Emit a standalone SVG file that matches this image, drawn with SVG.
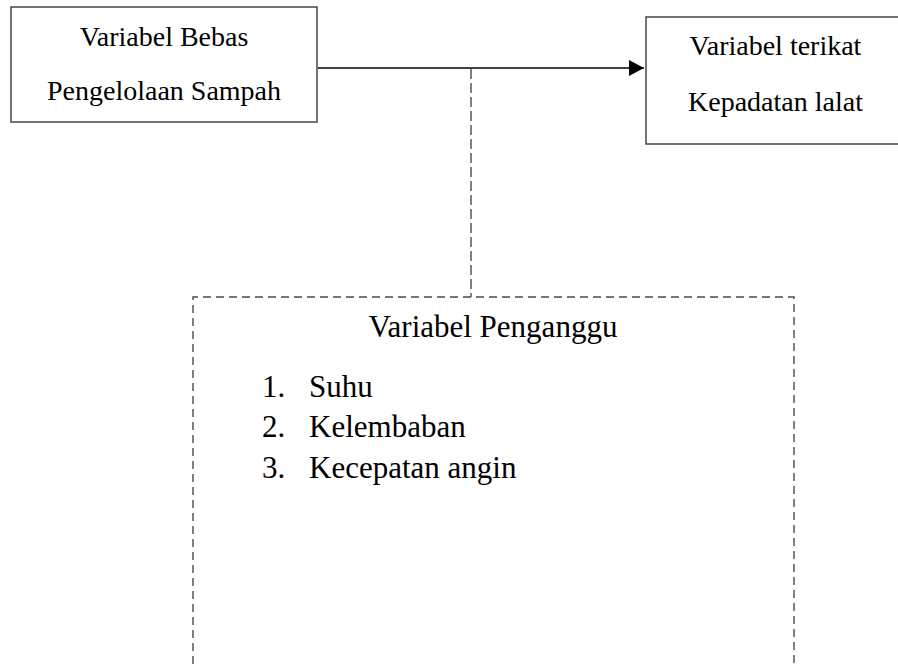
<svg xmlns="http://www.w3.org/2000/svg" width="898" height="668" viewBox="0 0 898 668">
<defs>
<style>
.box{fill:#fff;stroke:#3a3a3a;stroke-width:1.4}
.dbox{fill:none;stroke:#4a4a4a;stroke-width:1.4;stroke-dasharray:8 5}
.t{font-family:"Liberation Serif","Times New Roman",serif;fill:#000}
.t28{font-size:28px}
.t31{font-size:31px}
.conn{stroke:#000;stroke-width:1.6;fill:none}
.dconn{stroke:#4a4a4a;stroke-width:1.4;stroke-dasharray:10 4;fill:none}
</style>
<marker id="arr" markerWidth="16" markerHeight="18" refX="15" refY="8" orient="auto" markerUnits="userSpaceOnUse">
<path d="M0,0 L15,8 L0,16 Z" fill="#000"/>
</marker>
</defs>
<rect width="898" height="668" fill="#fff"/>
<g id="connectors">
<line class="conn" x1="318" y1="68" x2="644" y2="68" marker-end="url(#arr)"/>
<line class="dconn" x1="471" y1="69" x2="471" y2="297"/>
</g>
<g id="node-bebas">
<rect class="box" x="11" y="7" width="306" height="115"/>
<text class="t t28" x="164" y="46" text-anchor="middle">Variabel Bebas</text>
<text class="t t28" x="164" y="100" text-anchor="middle">Pengelolaan Sampah</text>
</g>
<g id="node-terikat">
<rect class="box" x="646" y="17" width="270" height="127"/>
<text class="t t28" x="775.5" y="55" text-anchor="middle">Variabel terikat</text>
<text class="t t28" x="775.5" y="111" text-anchor="middle">Kepadatan lalat</text>
</g>
<g id="node-pengganggu">
<path class="dbox" d="M193,690 L193,297 L794,297 L794,690"/>
<text class="t t31" x="493" y="337" text-anchor="middle">Variabel Penganggu</text>
<text class="t t31" x="262" y="397">1.</text>
<text class="t t31" x="309" y="397">Suhu</text>
<text class="t t31" x="262" y="437">2.</text>
<text class="t t31" x="309" y="437">Kelembaban</text>
<text class="t t31" x="262" y="478">3.</text>
<text class="t t31" x="309" y="478">Kecepatan angin</text>
</g>
</svg>
